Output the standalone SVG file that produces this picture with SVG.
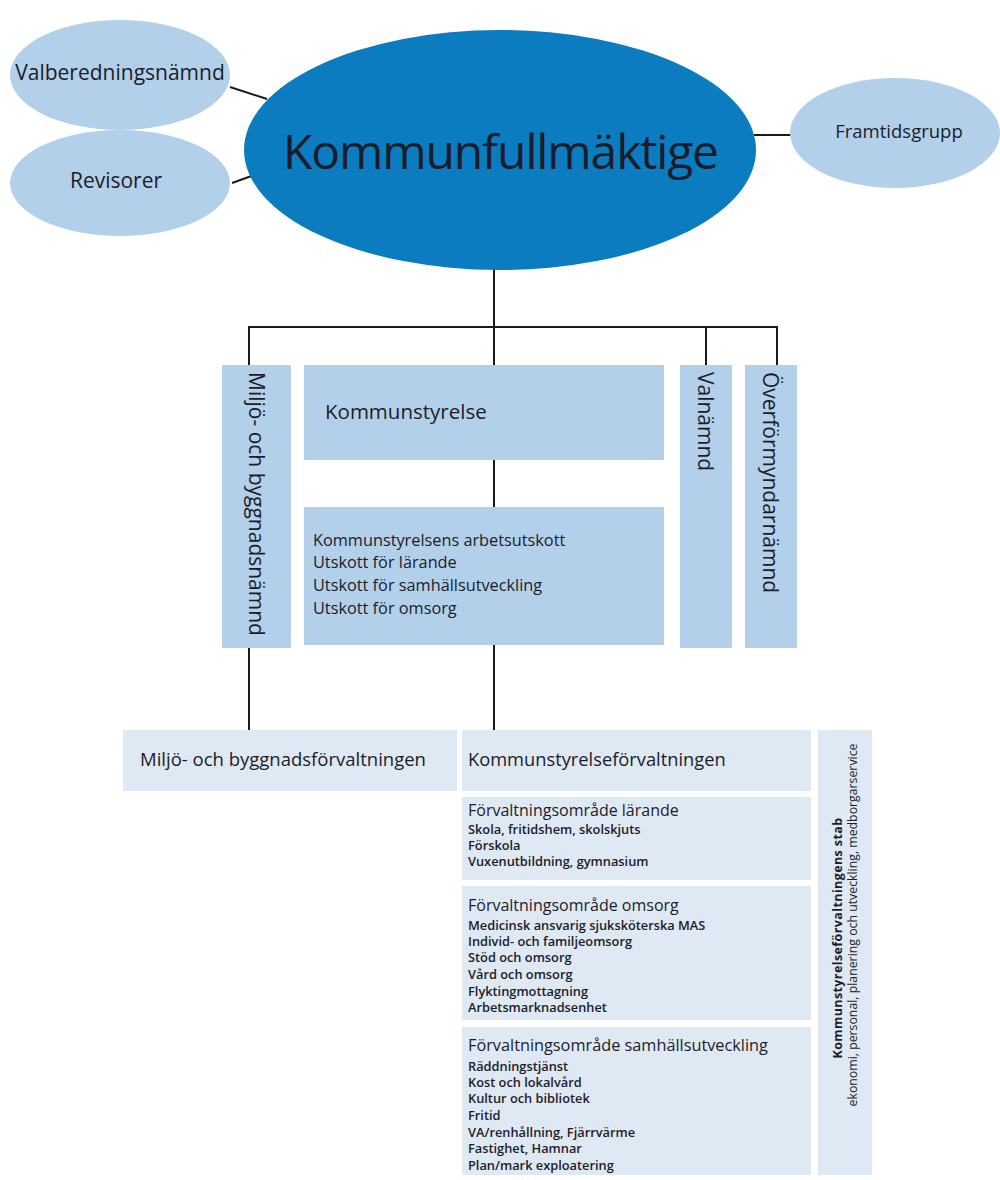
<svg xmlns="http://www.w3.org/2000/svg" width="1000" height="1180" viewBox="0 0 1000 1180">
<style>
text{font-family:"Open Sans","Noto Sans","Liberation Sans",sans-serif;fill:#1c1c2a}
.el{fill:#b3d0ea}
.vbox{fill:#b3d0ea}
.pbox{fill:#dfe9f4}
.ln{stroke:#1a1a1a;stroke-width:2;fill:none}
.t20{font-size:20.5px}
.tv{font-size:21px}
.t16{font-size:16.3px}
.th{font-size:16px}
.t12{font-size:12.8px;font-weight:600}
</style>
<rect width="1000" height="1180" fill="#ffffff"/>
<g id="connectors">
<line class="ln" x1="230" y1="87" x2="267" y2="99"/>
<line class="ln" x1="232" y1="183" x2="268" y2="170"/>
<line class="ln" x1="754" y1="135" x2="792" y2="135"/>
<line class="ln" x1="494" y1="268" x2="494" y2="366"/>
<line class="ln" x1="248" y1="327" x2="778" y2="327"/>
<line class="ln" x1="249" y1="326" x2="249" y2="366"/>
<line class="ln" x1="706" y1="327" x2="706" y2="366"/>
<line class="ln" x1="777" y1="326" x2="777" y2="366"/>
<line class="ln" x1="494" y1="460" x2="494" y2="508"/>
<line class="ln" x1="249" y1="648" x2="249" y2="731"/>
<line class="ln" x1="494" y1="645" x2="494" y2="731"/>
</g>
<g id="valberedning">
<ellipse class="el" cx="120" cy="75" rx="110" ry="55"/>
<text x="120" y="80" font-size="21" text-anchor="middle">Valberedningsnämnd</text>
</g>
<g id="revisorer">
<ellipse class="el" cx="120" cy="183" rx="110" ry="53"/>
<text x="116" y="188" font-size="21" text-anchor="middle">Revisorer</text>
</g>
<g id="kommunfullmaktige">
<ellipse cx="500" cy="150" rx="256" ry="120" fill="#0a7cbf"/>
<text x="501" y="169" font-size="48" text-anchor="middle" textLength="436">Kommunfullmäktige</text>
</g>
<g id="framtidsgrupp">
<ellipse class="el" cx="895" cy="133" rx="105" ry="55"/>
<text x="899" y="138" font-size="18.5" text-anchor="middle">Framtidsgrupp</text>
</g>
<g id="miljo-namnd">
<rect class="vbox" x="222" y="365" width="69" height="283"/>
<text class="tv" transform="translate(249,372) rotate(90)">Miljö- och byggnadsnämnd</text>
</g>
<g id="kommunstyrelse">
<rect class="vbox" x="304" y="365" width="360" height="95"/>
<text x="325" y="419" class="t20">Kommunstyrelse</text>
</g>
<g id="utskott">
<rect class="vbox" x="304" y="507" width="360" height="138"/>
<text x="313" y="546" class="t16">Kommunstyrelsens arbetsutskott</text>
<text x="313" y="568" class="t16">Utskott för lärande</text>
<text x="313" y="591" class="t16">Utskott för samhällsutveckling</text>
<text x="313" y="614" class="t16">Utskott för omsorg</text>
</g>
<g id="valnamnd">
<rect class="vbox" x="680" y="365" width="52" height="283"/>
<text class="tv" transform="translate(698,372) rotate(90)">Valnämnd</text>
</g>
<g id="overformyndarnamnd">
<rect class="vbox" x="745" y="365" width="52" height="283"/>
<text class="tv" transform="translate(763,372) rotate(90)">Överförmyndarnämnd</text>
</g>
<g id="miljo-forvaltning">
<rect class="pbox" x="123" y="730" width="334" height="61"/>
<text x="140" y="766" font-size="18.5">Miljö- och byggnadsförvaltningen</text>
</g>
<g id="ks-forvaltning">
<rect class="pbox" x="462" y="730" width="349" height="61"/>
<text x="468" y="766" font-size="18.3">Kommunstyrelseförvaltningen</text>
</g>
<g id="larande">
<rect class="pbox" x="462" y="797" width="349" height="83"/>
<text x="468" y="816" class="th">Förvaltningsområde lärande</text>
<text x="468" y="834" class="t12">Skola, fritidshem, skolskjuts</text>
<text x="468" y="850" class="t12">Förskola</text>
<text x="468" y="866" class="t12">Vuxenutbildning, gymnasium</text>
</g>
<g id="omsorg">
<rect class="pbox" x="462" y="886" width="349" height="134"/>
<text x="468" y="911" class="th">Förvaltningsområde omsorg</text>
<text x="468" y="930" class="t12">Medicinsk ansvarig sjuksköterska MAS</text>
<text x="468" y="946" class="t12">Individ- och familjeomsorg</text>
<text x="468" y="962" class="t12">Stöd och omsorg</text>
<text x="468" y="979" class="t12">Vård och omsorg</text>
<text x="468" y="996" class="t12">Flyktingmottagning</text>
<text x="468" y="1012" class="t12">Arbetsmarknadsenhet</text>
</g>
<g id="samhallsutveckling">
<rect class="pbox" x="462" y="1027" width="349" height="148"/>
<text x="468" y="1051" class="t16">Förvaltningsområde samhällsutveckling</text>
<text x="468" y="1071" class="t12">Räddningstjänst</text>
<text x="468" y="1087" class="t12">Kost och lokalvård</text>
<text x="468" y="1103" class="t12">Kultur och bibliotek</text>
<text x="468" y="1120" class="t12">Fritid</text>
<text x="468" y="1137" class="t12">VA/renhållning, Fjärrvärme</text>
<text x="468" y="1153" class="t12">Fastighet, Hamnar</text>
<text x="468" y="1170" class="t12">Plan/mark exploatering</text>
</g>
<g id="stab">
<rect class="pbox" x="818" y="730" width="54" height="445"/>
<text transform="translate(842,938) rotate(-90)" text-anchor="middle" font-size="12.5" font-weight="700" letter-spacing="0.4">Kommunstyrelseförvaltningens stab</text>
<text transform="translate(857,925) rotate(-90)" text-anchor="middle" font-size="12.3">ekonomi, personal, planering och utveckling, medborgarservice</text>
</g>
</svg>
